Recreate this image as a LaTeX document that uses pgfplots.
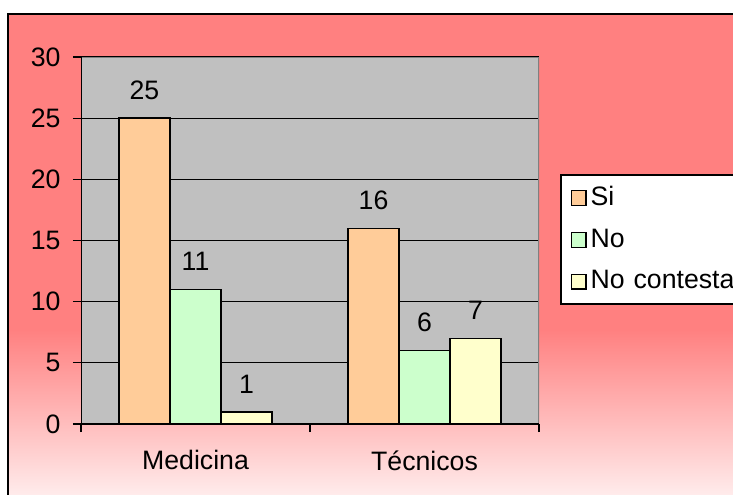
\documentclass[border=0pt]{standalone}
\usepackage{pgfplots}
\pgfplotsset{compat=1.18}
\usepackage{fontspec}
\setmainfont{Liberation Sans}

\definecolor{bgred}{HTML}{FF8080}
\definecolor{bgpale}{HTML}{FFEEEE}
\definecolor{plotgray}{HTML}{C0C0C0}
\definecolor{cSi}{HTML}{FFCC99}
\definecolor{cNo}{HTML}{CCFFCC}
\definecolor{cNC}{HTML}{FFFFCC}

\begin{document}
\fontsize{20}{23}\selectfont
\begin{tikzpicture}[x=0.75pt,y=0.75pt]
\path[use as bounding box, clip] (0,0) rectangle (733,494);
\fill[white] (0,0) rectangle (733,494);
% chart area background
\fill[bgred] (8,164) rectangle (745,480);
\shade[top color=bgred, bottom color=bgpale] (8,-5) rectangle (745,164.5);
\draw[line width=1.5pt] (8,-5) -- (8,480) -- (745,480);

\begin{axis}[
    at={(60.75pt,52.5pt)}, anchor=south west,
    scale only axis,
    width=343.5pt, height=275.25pt,
    /pgf/number format/assume math mode=true,
    axis background/.style={fill=plotgray},
    axis line style={draw=none},
    ybar=0pt, bar width=0.2227,
    xmin=-0.5, xmax=1.5,
    ymin=0, ymax=30,
    ytick={0,5,10,15,20,25,30},
    ymajorgrids=true,
    grid style={black, line width=0.9pt},
    tick align=outside,
    major tick length=6pt,
    tick style={black, line width=0.9pt},
    ytick pos=left,
    xtick pos=bottom,
    yticklabel style={font=\fontsize{20}{23}\selectfont, xshift=-2.5pt},
    xtick={0,1},
    xticklabels={Medicina, Técnicos},
    xtick style={draw=none},
    xticklabel style={font=\fontsize{20}{23}\selectfont, yshift=-7pt},
    extra x ticks={-0.5,0.5,1.5},
    extra x tick labels={},
    extra x tick style={xtick style={draw=black, line width=0.9pt}, grid=none},
    nodes near coords,
    every node near coord/.append style={font=\fontsize{20}{23}\selectfont, black, anchor=south, inner sep=0pt, yshift=13.5pt},
    legend cell align=left,
    legend style={at={(1.0459,0.6812)}, anchor=north west,
        draw=black, line width=1.2pt, fill=white,
        font=\fontsize{20}{23}\selectfont,
        row sep=10.5pt, inner xsep=7.5pt, inner ysep=6.5pt,
        nodes={text width=140pt, inner xsep=3pt}},
    legend image code/.code={\draw[#1, line width=0.9pt] (0pt,-5.5pt) rectangle (11pt,5.5pt);},
]
\addplot[fill=cSi, draw=black, line width=1.1pt] coordinates {(0,25) (1,16)};
\addlegendentry{Si}
\addplot[fill=cNo, draw=black, line width=1.1pt] coordinates {(0,11) (1,6)};
\addlegendentry{No}
\addplot[fill=cNC, draw=black, line width=1.1pt] coordinates {(0,1) (1,7)};
\addlegendentry{No contesta}
\draw[gray, line width=1.2pt] (rel axis cs:0,1) -- (rel axis cs:1,1) -- (rel axis cs:1,0);
\draw[black, line width=1.2pt] (rel axis cs:0,1) -- (rel axis cs:0,0) -- (rel axis cs:1,0);
\end{axis}
\end{tikzpicture}
\end{document}
